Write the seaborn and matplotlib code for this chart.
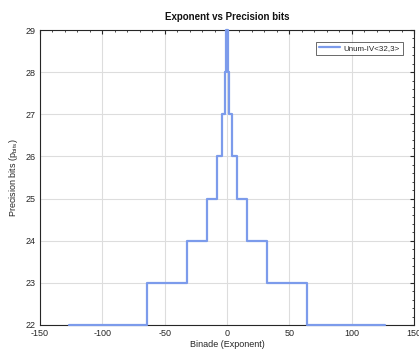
import matplotlib
matplotlib.use("Agg")
import matplotlib.pyplot as plt
from matplotlib.ticker import MultipleLocator
import seaborn as sns
import pandas as pd

# Step breakpoints (steps-post): value holds from exponent[i] to exponent[i+1]
exponent = [-127, -64, -32, -16, -8, -4, -2, -1, 1, 2, 4, 8, 16, 32, 64, 127]
precision_bits = [22, 23, 24, 25, 26, 27, 28, 29, 28, 27, 26, 25, 24, 23, 22, 22]
series_name = "Unum-IV<32,3>"

sns.set_style("white")
plt.rcParams['font.family'] = ['Liberation Sans', 'DejaVu Sans']
plt.rcParams['mathtext.default'] = 'regular'
plt.rcParams['axes.unicode_minus'] = False

df = pd.DataFrame({"Exponent": exponent, "Bits": precision_bits})

fig = plt.figure(figsize=(4.19, 3.51), dpi=100)
ax = fig.add_axes([40/419, 1 - 325/351, (414-40)/419, (325-30)/351])

sns.lineplot(data=df, x="Exponent", y="Bits", ax=ax, color="#7C9BEB",
             linewidth=1.6, drawstyle="steps-post", label=series_name,
             sort=False, zorder=3, clip_on=False)

ax.set_xlim(-150, 150)
ax.set_ylim(22, 29)
ax.xaxis.set_major_locator(MultipleLocator(50))
ax.xaxis.set_minor_locator(MultipleLocator(10))
ax.yaxis.set_major_locator(MultipleLocator(1))
ax.yaxis.set_minor_locator(MultipleLocator(0.2))
ax.tick_params(which='both', direction='in', top=True, right=True,
               color='#262626', labelsize=6.5, labelcolor='#262626', pad=3)
ax.tick_params(which='major', length=3, width=0.8)
ax.tick_params(which='minor', length=1.6, width=0.6)
ax.grid(True, which='major', color='#dddddd', linewidth=0.8, zorder=0)
for s in ax.spines.values():
    s.set_color('#262626')
    s.set_linewidth(0.8)

ax.set_title("Exponent vs Precision bits", fontsize=7, fontweight='bold', pad=7, color='#111111')
ax.set_xlabel("Binade (Exponent)", fontsize=6.5, labelpad=1, color='#262626')
ax.set_ylabel("Precision bits (p$_{bits}$)", fontsize=6.5, labelpad=4, color='#262626')

leg = ax.legend(loc='upper right', fontsize=5.8, frameon=True, fancybox=False,
                borderpad=0.35, handlelength=2.6, handletextpad=0.5,
                bbox_to_anchor=(0.97, 0.96), borderaxespad=0)
leg.get_frame().set_edgecolor('#262626')
leg.get_frame().set_linewidth(0.6)

fig.savefig("out.png", dpi=100)
